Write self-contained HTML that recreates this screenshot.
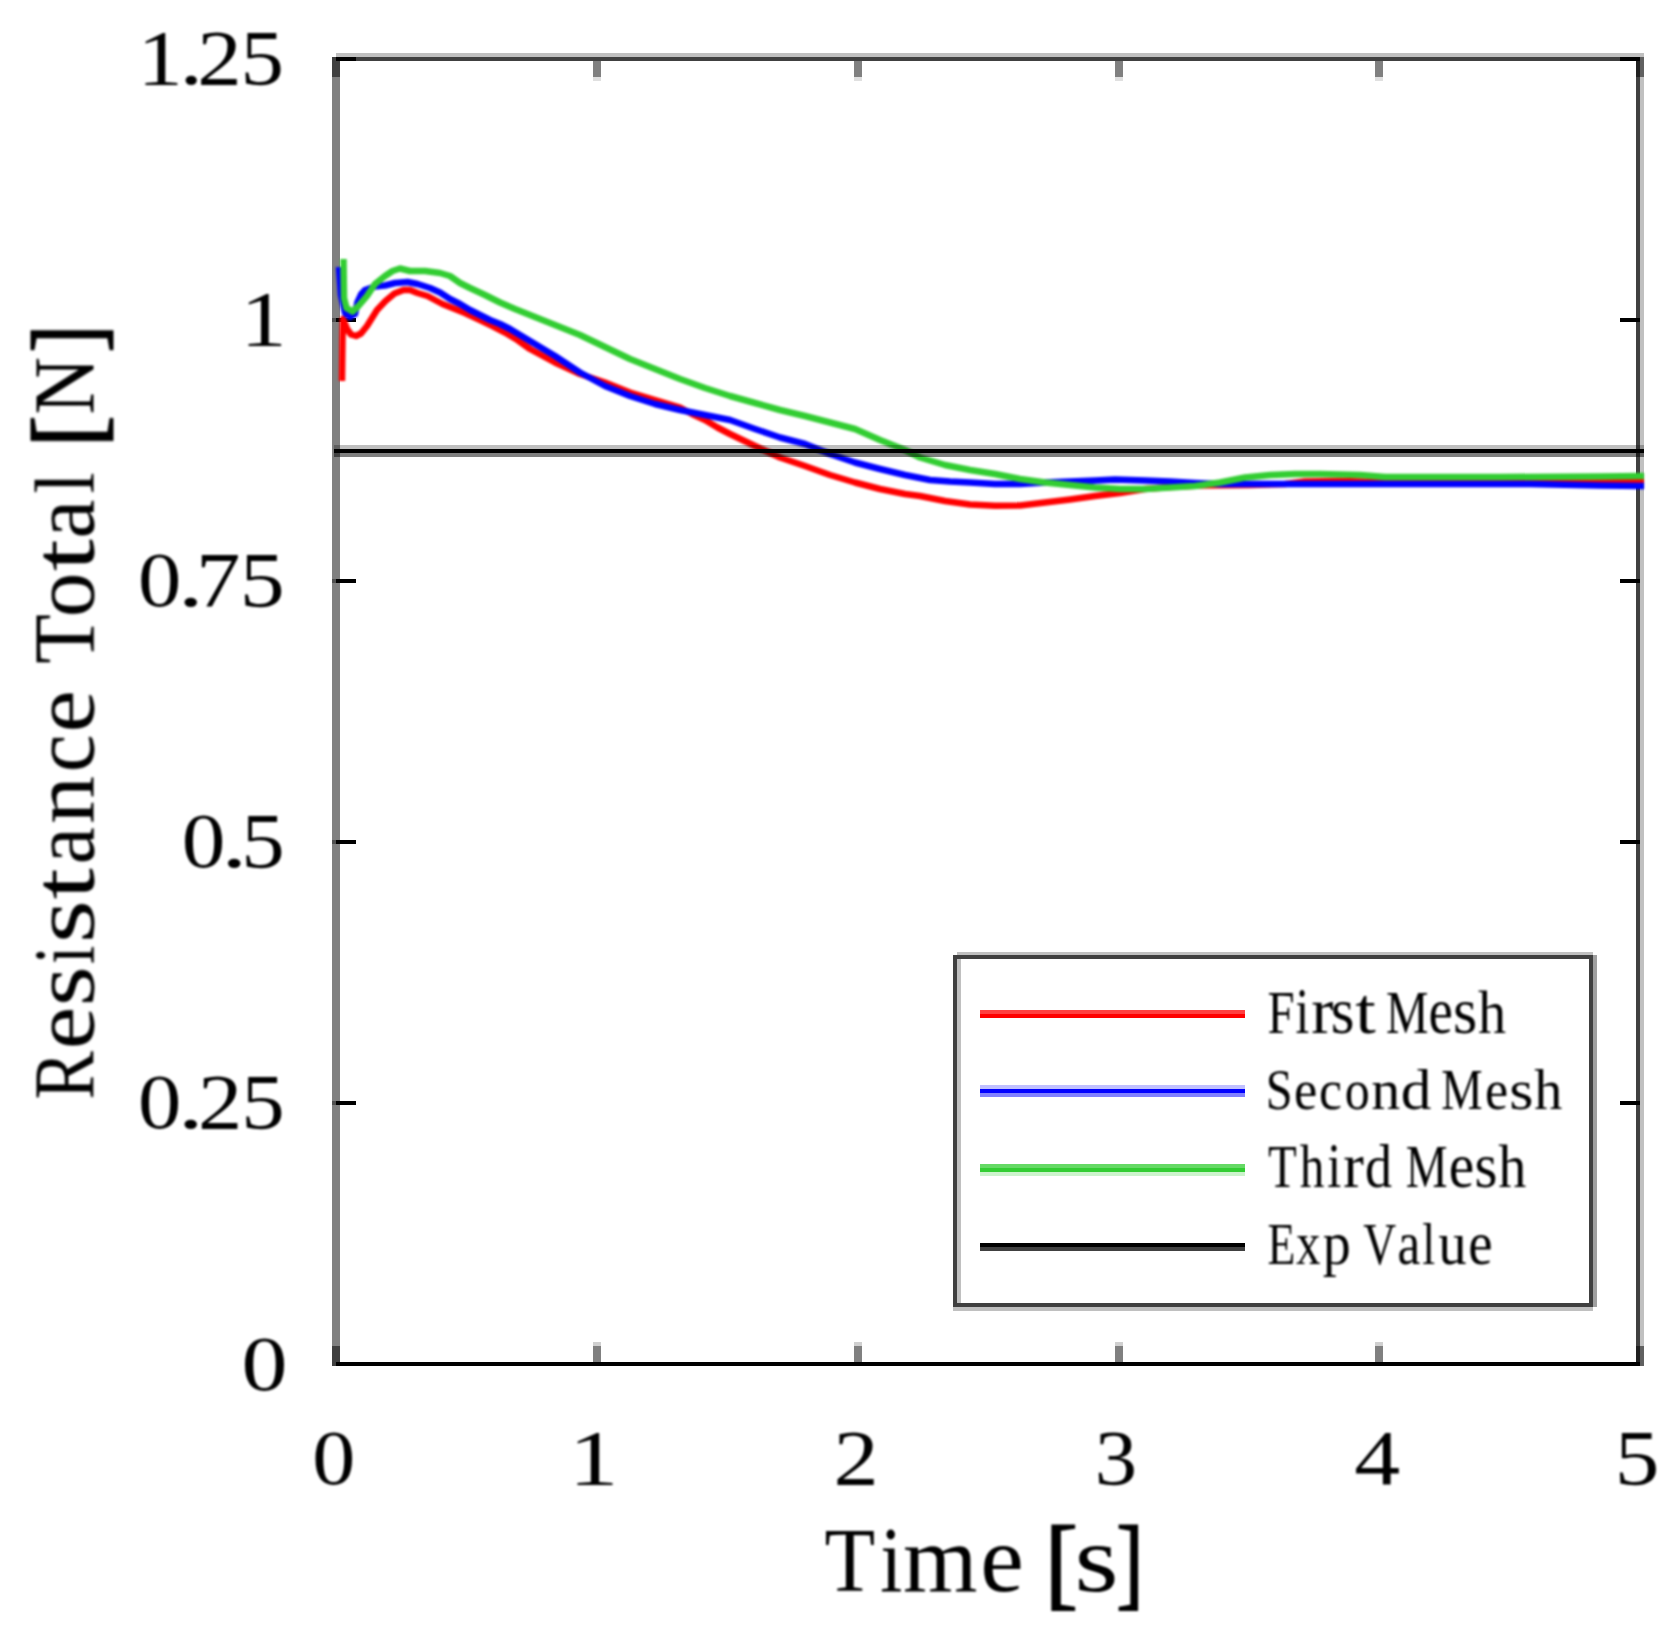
<!DOCTYPE html>
<html lang="en"><head><meta charset="utf-8"><title>Resistance Total vs Time</title>
<style>
html,body{margin:0;padding:0;background:#fff;}
body{width:1680px;height:1641px;overflow:hidden;}
svg{display:block;}
text{font-family:"Liberation Serif","DejaVu Serif",serif;fill:#000;}
.tk{font-size:78px;}
.lg{font-size:61px;}
</style></head><body>
<svg width="1680" height="1641" viewBox="0 0 1680 1641">
<defs><filter id="soft" x="-5%" y="-5%" width="110%" height="110%" color-interpolation-filters="sRGB"><feGaussianBlur stdDeviation="1.1"/></filter></defs>
<rect width="1680" height="1641" fill="#fff"/>
<g>
<g shape-rendering="crispEdges">
<rect x="332" y="57" width="8" height="1309" fill="#808080"/>
<rect x="336" y="53" width="1308" height="4" fill="#c0c0c0"/>
<rect x="332" y="57" width="1312" height="4" fill="#404040"/>
<rect x="1636" y="57" width="4" height="1309" fill="#404040"/>
<rect x="1640" y="57" width="4" height="1309" fill="#c0c0c0"/>
<rect x="336" y="1362" width="1304" height="4" fill="#000"/>
<rect x="593" y="61" width="8" height="16" fill="#808080"/>
<rect x="593" y="77" width="8" height="4" fill="#e0e0e0"/>
<rect x="593" y="1346" width="8" height="16" fill="#808080"/>
<rect x="593" y="1342" width="8" height="4" fill="#d0d0d0"/>
<rect x="854" y="61" width="8" height="16" fill="#808080"/>
<rect x="854" y="77" width="8" height="4" fill="#e0e0e0"/>
<rect x="854" y="1346" width="8" height="16" fill="#808080"/>
<rect x="854" y="1342" width="8" height="4" fill="#d0d0d0"/>
<rect x="1114.5" y="61" width="8" height="16" fill="#808080"/>
<rect x="1114.5" y="77" width="8" height="4" fill="#e0e0e0"/>
<rect x="1114.5" y="1346" width="8" height="16" fill="#808080"/>
<rect x="1114.5" y="1342" width="8" height="4" fill="#d0d0d0"/>
<rect x="1375" y="61" width="8" height="16" fill="#808080"/>
<rect x="1375" y="77" width="8" height="4" fill="#e0e0e0"/>
<rect x="1375" y="1346" width="8" height="16" fill="#808080"/>
<rect x="1375" y="1342" width="8" height="4" fill="#d0d0d0"/>
<rect x="336" y="318" width="20" height="4" fill="#000"/><rect x="332" y="318" width="4" height="4" fill="#505050"/>
<rect x="1620" y="318" width="20" height="4" fill="#000"/>
<rect x="336" y="579" width="20" height="4" fill="#000"/><rect x="332" y="579" width="4" height="4" fill="#505050"/>
<rect x="1620" y="579" width="20" height="4" fill="#000"/>
<rect x="336" y="840" width="20" height="4" fill="#000"/><rect x="332" y="840" width="4" height="4" fill="#505050"/>
<rect x="1620" y="840" width="20" height="4" fill="#000"/>
<rect x="336" y="1101" width="20" height="4" fill="#000"/><rect x="332" y="1101" width="4" height="4" fill="#505050"/>
<rect x="1620" y="1101" width="20" height="4" fill="#000"/>
<rect x="332" y="57" width="8" height="20" fill="#404040"/>
<rect x="1636" y="57" width="4" height="20" fill="#202020"/><rect x="1640" y="57" width="4" height="20" fill="#606060"/>
<rect x="332" y="1346" width="8" height="20" fill="#404040"/>
<rect x="1636" y="1346" width="4" height="20" fill="#202020"/><rect x="1640" y="1346" width="4" height="20" fill="#606060"/>
<rect x="336" y="57" width="20" height="4" fill="#000"/>
<rect x="1620" y="57" width="20" height="4" fill="#000"/>
<rect x="336" y="1362" width="1304" height="4" fill="#000"/>
</g>
<g filter="url(#soft)">
<polyline points="342,381 342.5,340 343,319 347,329 351,334.5 356,336 361,333.5 367,326 377,310 385.5,301 394.5,293.5 403.5,290 410,290 417.5,293 427.5,296 435,300 442.5,304 452.5,308 465,313 480,320 492.5,326 505,332.5 517.5,340 530,349 555,362.5 580,374 605,382.5 630,392.5 655,400 680,407.5 692,414 705,420 717.5,427.5 730,434 742.5,440 755,446 780,457.5 805,466 830,475 855,482.5 880,489 905,494 920,496 945,501 970,504.5 995,505.75 1020,505.5 1045,502.5 1070,499.5 1095,496 1120,493 1145,489 1170,487 1200,485.5 1250,485 1285,484 1305,481.5 1340,481 1400,482.5 1500,482.5 1590,482.5 1644,482" fill="none" stroke="#ff0000" stroke-width="6.5" stroke-linejoin="round" stroke-linecap="butt"/>
<polyline points="339,267 341,295 345,313 350,317 355,314 357.5,302 361,294.5 365,290 375,286.5 385,285.5 395,283 407.5,282 417.5,284 430,288 440,292.5 450,299 460,304 470,310 480,315 490,320 500,324 510,329 520,335 530,341 555,356 580,372.5 605,386 630,396 655,404 680,410 705,415 730,420 755,429 780,437.5 805,444 830,454 855,462.5 880,469 905,475 930,480 950,481.5 970,482.5 995,484 1020,484 1045,482.5 1070,481.5 1095,480.5 1115,479.5 1145,480.5 1170,481.5 1195,483 1220,484 1245,484 1340,484 1530,484 1600,485.5 1644,486" fill="none" stroke="#0000ff" stroke-width="6.5" stroke-linejoin="round" stroke-linecap="butt"/>
<polyline points="343.5,259 344,298 346.5,308 352.5,311.5 358,306.5 367,296 375,284 385,276 392.5,271 400,268.5 410,271 425,271 440,273 450,276 460,283 470,288 485,295 500,302.5 515,309 530,315 555,325 580,335 605,347 630,359 655,369 680,379 705,388 730,396 755,403 780,410 805,416 830,422.5 855,429 880,440 905,450 920,457.5 945,465 970,470 995,474 1020,479 1045,482.5 1070,485 1095,487.5 1120,489 1145,489 1170,487.5 1195,486 1220,482.5 1245,477.5 1270,475 1295,474 1320,474 1340,474.5 1360,475 1385,477 1500,477 1600,476.5 1644,476" fill="none" stroke="#32cd32" stroke-width="6.5" stroke-linejoin="round" stroke-linecap="butt"/>
</g>
<g shape-rendering="crispEdges"><rect x="334" y="445" width="1310" height="4" fill="#000" fill-opacity="0.25"/><rect x="334" y="449" width="1310" height="4" fill="#000"/><rect x="334" y="453" width="1310" height="4" fill="#000" fill-opacity="0.5"/></g>
<g shape-rendering="crispEdges">
<rect x="953" y="955" width="4" height="352" fill="#404040"/><rect x="957" y="959" width="3.5" height="344" fill="#c0c0c0"/>
<rect x="1589" y="955" width="4" height="352" fill="#404040"/><rect x="1593" y="955" width="4" height="352" fill="#a0a0a0"/>
<rect x="957" y="951.5" width="636" height="3.5" fill="#c0c0c0"/><rect x="953" y="955" width="640" height="4" fill="#404040"/>
<rect x="953" y="1303" width="640" height="4" fill="#404040"/><rect x="953" y="1307" width="640" height="3.5" fill="#c0c0c0"/>
</g>
<g shape-rendering="crispEdges">
<rect x="980" y="1010.25" width="265" height="3.75" fill="#ff4040"/><rect x="980" y="1014" width="265" height="3.75" fill="#ff0000"/>
<rect x="980" y="1085.25" width="265" height="3.75" fill="#c0c0ff"/><rect x="980" y="1089" width="265" height="4" fill="#0000ff"/><rect x="980" y="1093" width="265" height="4" fill="#8080ff"/>
<rect x="980" y="1164" width="265" height="4" fill="#65d965"/><rect x="980" y="1168" width="265" height="4" fill="#32cd32"/><rect x="980" y="1172" width="265" height="4" fill="#ccf3cc"/>
<rect x="980" y="1243.3" width="265" height="4" fill="#000"/><rect x="980" y="1247.3" width="265" height="4" fill="#404040"/>
</g>
<g filter="url(#soft)">
<text class="lg" y="1032.5" aria-label="First Mesh"><tspan x="1267.50" dy="0" font-size="62" textLength="27.06" lengthAdjust="spacingAndGlyphs">F</tspan><tspan x="1295.46" dy="0" font-size="65" textLength="13.79" lengthAdjust="spacingAndGlyphs">i</tspan><tspan x="1311.26" dy="0" font-size="65" textLength="22.22" lengthAdjust="spacingAndGlyphs">r</tspan><tspan x="1330.80" dy="0" font-size="65" textLength="23.70" lengthAdjust="spacingAndGlyphs">s</tspan><tspan x="1355.18" dy="0" font-size="65" textLength="20.56" lengthAdjust="spacingAndGlyphs">t</tspan> <tspan x="1385.92" dy="0" font-size="62" textLength="42.48" lengthAdjust="spacingAndGlyphs">M</tspan><tspan x="1428.56" dy="0" font-size="65" textLength="24.34" lengthAdjust="spacingAndGlyphs">e</tspan><tspan x="1453.05" dy="0" font-size="65" textLength="24.20" lengthAdjust="spacingAndGlyphs">s</tspan><tspan x="1478.05" dy="0" font-size="62" textLength="28.09" lengthAdjust="spacingAndGlyphs">h</tspan></text>
<text class="lg" y="1108.5" aria-label="Second Mesh"><tspan x="1265.67" dy="0" font-size="58" textLength="26.82" lengthAdjust="spacingAndGlyphs">S</tspan><tspan x="1293.95" dy="0" font-size="58" textLength="23.26" lengthAdjust="spacingAndGlyphs">e</tspan><tspan x="1318.93" dy="0" font-size="58" textLength="22.96" lengthAdjust="spacingAndGlyphs">c</tspan><tspan x="1344.79" dy="0" font-size="58" textLength="25.01" lengthAdjust="spacingAndGlyphs">o</tspan><tspan x="1371.17" dy="0" font-size="58" textLength="29.01" lengthAdjust="spacingAndGlyphs">n</tspan><tspan x="1400.78" dy="0" font-size="58" textLength="30.66" lengthAdjust="spacingAndGlyphs">d</tspan> <tspan x="1441.36" dy="0" font-size="58" textLength="41.41" lengthAdjust="spacingAndGlyphs">M</tspan><tspan x="1484.96" dy="0" font-size="58" textLength="23.14" lengthAdjust="spacingAndGlyphs">e</tspan><tspan x="1509.25" dy="0" font-size="58" textLength="24.20" lengthAdjust="spacingAndGlyphs">s</tspan><tspan x="1534.35" dy="0" font-size="58" textLength="28.09" lengthAdjust="spacingAndGlyphs">h</tspan></text>
<text class="lg" y="1187" aria-label="Third Mesh"><tspan x="1268.05" dy="0" font-size="62" textLength="28.73" lengthAdjust="spacingAndGlyphs">T</tspan><tspan x="1299.72" dy="0" font-size="62" textLength="24.63" lengthAdjust="spacingAndGlyphs">h</tspan><tspan x="1327.24" dy="0" font-size="64" textLength="14.02" lengthAdjust="spacingAndGlyphs">i</tspan><tspan x="1343.26" dy="0" font-size="64" textLength="20.58" lengthAdjust="spacingAndGlyphs">r</tspan><tspan x="1365.05" dy="0" font-size="62" textLength="27.01" lengthAdjust="spacingAndGlyphs">d</tspan> <tspan x="1405.84" dy="0" font-size="62" textLength="41.83" lengthAdjust="spacingAndGlyphs">M</tspan><tspan x="1448.76" dy="0" font-size="64" textLength="25.42" lengthAdjust="spacingAndGlyphs">e</tspan><tspan x="1474.38" dy="0" font-size="64" textLength="22.95" lengthAdjust="spacingAndGlyphs">s</tspan><tspan x="1498.35" dy="0" font-size="62" textLength="28.09" lengthAdjust="spacingAndGlyphs">h</tspan></text>
<text class="lg" y="1264" aria-label="Exp Value"><tspan x="1267.58" dy="0" font-size="60" textLength="27.89" lengthAdjust="spacingAndGlyphs">E</tspan><tspan x="1296.07" dy="0" font-size="61" textLength="24.53" lengthAdjust="spacingAndGlyphs">x</tspan><tspan x="1322.80" dy="0" font-size="61" textLength="27.99" lengthAdjust="spacingAndGlyphs">p</tspan> <tspan x="1363.19" dy="0" font-size="60" textLength="32.92" lengthAdjust="spacingAndGlyphs">V</tspan><tspan x="1397.49" dy="0" font-size="61" textLength="22.81" lengthAdjust="spacingAndGlyphs">a</tspan><tspan x="1422.37" dy="0" font-size="60" textLength="12.97" lengthAdjust="spacingAndGlyphs">l</tspan><tspan x="1438.25" dy="0" font-size="61" textLength="28.42" lengthAdjust="spacingAndGlyphs">u</tspan><tspan x="1468.16" dy="0" font-size="61" textLength="24.34" lengthAdjust="spacingAndGlyphs">e</tspan></text>
<text class="tk" y="84" aria-label="1.25"><tspan x="137.64" dy="0" font-size="78" textLength="45.31" lengthAdjust="spacingAndGlyphs">1</tspan><tspan x="179.30" dy="0" font-size="78" textLength="23.91" lengthAdjust="spacingAndGlyphs">.</tspan><tspan x="197.34" dy="0" font-size="78" textLength="44.46" lengthAdjust="spacingAndGlyphs">2</tspan><tspan x="240.55" dy="0" font-size="78" textLength="43.44" lengthAdjust="spacingAndGlyphs">5</tspan></text>
<text class="tk" y="345" aria-label="1"><tspan x="240.64" dy="0" font-size="78" textLength="46.16" lengthAdjust="spacingAndGlyphs">1</tspan></text>
<text class="tk" y="606" aria-label="0.75"><tspan x="137.95" dy="0" font-size="78" textLength="43.35" lengthAdjust="spacingAndGlyphs">0</tspan><tspan x="177.53" dy="0" font-size="78" textLength="26.45" lengthAdjust="spacingAndGlyphs">.</tspan><tspan x="196.14" dy="0" font-size="78" textLength="44.41" lengthAdjust="spacingAndGlyphs">7</tspan><tspan x="239.77" dy="0" font-size="78" textLength="44.99" lengthAdjust="spacingAndGlyphs">5</tspan></text>
<text class="tk" y="867" aria-label="0.5"><tspan x="181.68" dy="0" font-size="78" textLength="43.65" lengthAdjust="spacingAndGlyphs">0</tspan><tspan x="221.03" dy="0" font-size="78" textLength="26.45" lengthAdjust="spacingAndGlyphs">.</tspan><tspan x="241.20" dy="0" font-size="78" textLength="43.44" lengthAdjust="spacingAndGlyphs">5</tspan></text>
<text class="tk" y="1128" aria-label="0.25"><tspan x="137.95" dy="0" font-size="78" textLength="43.35" lengthAdjust="spacingAndGlyphs">0</tspan><tspan x="177.53" dy="0" font-size="78" textLength="26.45" lengthAdjust="spacingAndGlyphs">.</tspan><tspan x="198.11" dy="0" font-size="78" textLength="44.28" lengthAdjust="spacingAndGlyphs">2</tspan><tspan x="241.20" dy="0" font-size="78" textLength="43.44" lengthAdjust="spacingAndGlyphs">5</tspan></text>
<text class="tk" y="1389.5" aria-label="0"><tspan x="241.50" dy="0" font-size="78" textLength="46.01" lengthAdjust="spacingAndGlyphs">0</tspan></text>
<text class="tk" y="1483.5" aria-label="0"><tspan x="312.22" dy="0" font-size="78" textLength="43.06" lengthAdjust="spacingAndGlyphs">0</tspan></text>
<text class="tk" y="1483.5" aria-label="1"><tspan x="568.76" dy="0" font-size="78" textLength="49.71" lengthAdjust="spacingAndGlyphs">1</tspan></text>
<text class="tk" y="1483.5" aria-label="2"><tspan x="833.53" dy="0" font-size="78" textLength="45.21" lengthAdjust="spacingAndGlyphs">2</tspan></text>
<text class="tk" y="1483.5" aria-label="3"><tspan x="1094.70" dy="0" font-size="78" textLength="42.36" lengthAdjust="spacingAndGlyphs">3</tspan></text>
<text class="tk" y="1483.5" aria-label="4"><tspan x="1354.20" dy="0" font-size="78" textLength="45.98" lengthAdjust="spacingAndGlyphs">4</tspan></text>
<text class="tk" y="1483.5" aria-label="5"><tspan x="1614.81" dy="0" font-size="78" textLength="44.68" lengthAdjust="spacingAndGlyphs">5</tspan></text>
<text y="1590.5" font-size="91" aria-label="Time [s]"><tspan x="824.50" dy="0" font-size="91" textLength="50.68" lengthAdjust="spacingAndGlyphs">T</tspan><tspan x="880.13" dy="0" font-size="93" textLength="22.08" lengthAdjust="spacingAndGlyphs">i</tspan><tspan x="903.09" dy="0" font-size="96" textLength="74.51" lengthAdjust="spacingAndGlyphs">m</tspan><tspan x="980.27" dy="0" font-size="96" textLength="43.53" lengthAdjust="spacingAndGlyphs">e</tspan> <tspan x="1045.00" dy="5.6" font-size="102" stroke="#000" stroke-width="2" textLength="32.75" lengthAdjust="spacingAndGlyphs">[</tspan><tspan x="1074.56" dy="-5.6" font-size="96" textLength="44.03" lengthAdjust="spacingAndGlyphs">s</tspan><tspan x="1116.60" dy="5.6" font-size="102" stroke="#000" stroke-width="2" textLength="26.77" lengthAdjust="spacingAndGlyphs">]</tspan></text>
<text transform="translate(93.5,1097.5) rotate(-90)" y="0" font-size="86" aria-label="Resistance Total [N]"><tspan x="-2.09" dy="0" font-size="86" textLength="48.40" lengthAdjust="spacingAndGlyphs">R</tspan><tspan x="48.16" dy="0" font-size="89" textLength="42.45" lengthAdjust="spacingAndGlyphs">e</tspan><tspan x="91.28" dy="0" font-size="89" textLength="40.04" lengthAdjust="spacingAndGlyphs">s</tspan><tspan x="133.62" dy="0" font-size="87" textLength="18.23" lengthAdjust="spacingAndGlyphs">i</tspan><tspan x="154.24" dy="0" font-size="89" textLength="43.28" lengthAdjust="spacingAndGlyphs">s</tspan><tspan x="198.00" dy="0" font-size="88" textLength="31.36" lengthAdjust="spacingAndGlyphs">t</tspan><tspan x="233.16" dy="0" font-size="89" textLength="37.08" lengthAdjust="spacingAndGlyphs">a</tspan><tspan x="273.49" dy="0" font-size="89" textLength="48.06" lengthAdjust="spacingAndGlyphs">n</tspan><tspan x="325.15" dy="0" font-size="89" textLength="37.88" lengthAdjust="spacingAndGlyphs">c</tspan><tspan x="364.97" dy="0" font-size="89" textLength="42.33" lengthAdjust="spacingAndGlyphs">e</tspan> <tspan x="433.83" dy="0" font-size="86" textLength="49.62" lengthAdjust="spacingAndGlyphs">T</tspan><tspan x="480.39" dy="0" font-size="89" textLength="44.71" lengthAdjust="spacingAndGlyphs">o</tspan><tspan x="526.37" dy="0" font-size="88" textLength="32.21" lengthAdjust="spacingAndGlyphs">t</tspan><tspan x="558.92" dy="0" font-size="89" textLength="38.88" lengthAdjust="spacingAndGlyphs">a</tspan><tspan x="604.08" dy="0" font-size="85" textLength="21.15" lengthAdjust="spacingAndGlyphs">l</tspan> <tspan x="650.60" dy="6.4" font-size="96.5" stroke="#000" stroke-width="2" textLength="31.41" lengthAdjust="spacingAndGlyphs">[</tspan><tspan x="683.11" dy="-6.4" font-size="86" textLength="57.52" lengthAdjust="spacingAndGlyphs">N</tspan><tspan x="745.15" dy="6.4" font-size="96.5" stroke="#000" stroke-width="2" textLength="27.22" lengthAdjust="spacingAndGlyphs">]</tspan></text>
</g></g></svg></body></html>
